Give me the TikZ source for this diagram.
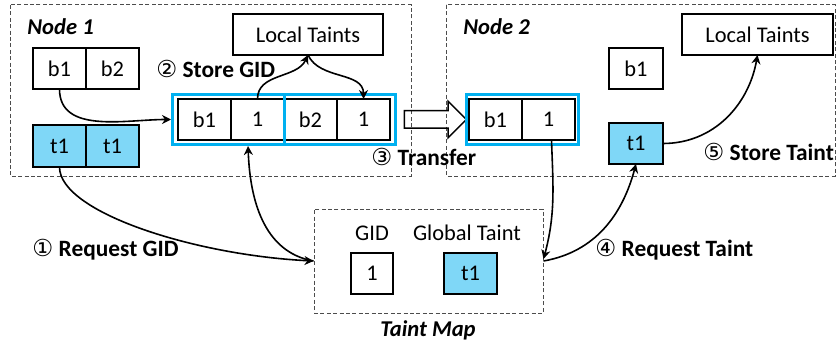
\documentclass[tikz,border=0pt]{standalone}
\usepackage{fontspec}
\setmainfont{Carlito}
\newfontfamily\circled{DejaVu Sans}
\usepackage{tikz}
\usetikzlibrary{arrows.meta,shapes}
\definecolor{taint}{HTML}{7FD7F7}
\definecolor{gidblue}{HTML}{00B0F0}

\begin{document}
\begin{tikzpicture}[x=0.5pt,y=-0.5pt,font=\fontsize{11.2}{13}\selectfont]
\tikzstyle{cell}=[rectangle,draw,line width=0.75pt,minimum width=26.5pt,minimum height=20.5pt,inner sep=0pt,outer sep=0pt]
\tikzstyle{tcell}=[cell,fill=taint]
\tikzstyle{grp}=[rectangle,draw=gidblue,line width=1.5pt,minimum height=25pt,inner sep=0pt]
\tikzstyle{region}=[draw=black!70,dash pattern=on 2pt off 1.2pt,line width=0.5pt]
\tikzstyle{step label}=[anchor=west,inner sep=0pt,font=\fontsize{11.7}{14}\selectfont\bfseries]
\tikzstyle{title}=[anchor=west,inner sep=0pt,font=\fontsize{11.3}{13}\selectfont\bfseries\itshape]
\tikzstyle{flow}=[line width=0.8pt,-{Stealth[length=4.5pt,width=4.5pt]}]
\useasboundingbox (0,0) rectangle (838,347);

% the two nodes and the shared map
\draw[region] (10,5) rectangle (411,176);
\draw[region] (446,5) rectangle (835,176);
\node[region,rectangle,minimum width=114.5pt,minimum height=52pt] (tm) at (428.5,261) {};
\node[title] at (27,27) {Node 1};
\node[title] at (463,27) {Node 2};
\node[title,anchor=center] at (428,330) {Taint Map};

% node 1
\node[cell,minimum width=75pt] (lt1) at (308,34.5) {Local Taints};
\node[cell] (b1) at (59.5,68.5) {b1};
\node[cell,anchor=west] (b2) at (b1.east) {b2};
\node[tcell,minimum height=21pt] (t1) at (59.5,146) {t1};
\node[tcell,minimum height=21pt,anchor=west] (t2) at (t1.east) {t1};
\node[cell] (c1) at (204.5,119.5) {b1};
\node[cell,anchor=west] (c2) at (c1.east) {1};
\node[cell,anchor=west] (c3) at (c2.east) {b2};
\node[cell,anchor=west] (c4) at (c3.east) {1};
\node[grp,minimum width=55.75pt] (g1) at (228.25,119.5) {};
\node[grp,minimum width=55.75pt] (g2) at (339.75,119.5) {};

% transfer
\node[draw,single arrow,line width=0.75pt,inner xsep=0pt,inner ysep=4pt,minimum height=31pt,single arrow head extend=4.75pt] (tr) at (431,119.5) {};

% node 2
\node[cell,minimum width=75.5pt] (lt2) at (757.5,34.5) {Local Taints};
\node[cell] (d1) at (495.5,119.5) {b1};
\node[cell,anchor=west] (d2) at (d1.east) {1};
\node[grp,minimum width=56pt] (g3) at (522.5,119.5) {};
\node[cell,minimum width=27pt] (e1) at (636,68.5) {b1};
\node[tcell,minimum width=27pt] (e2) at (636,143.5) {t1};

% taint map entries
\node at (372,233) {GID};
\node at (467,233) {Global Taint};
\node[cell,minimum width=21pt] (m1) at (372,273.5) {1};
\node[tcell] (m2) at (470.5,273.5) {t1};

% steps
\node[step label] at (156,69) {{\circled\mdseries ②} Store GID};
\node[step label] at (371,157) {{\circled\mdseries ③} Transfer};
\node[step label] at (703,152) {{\circled\mdseries ⑤} Store Taint};
\node[step label] at (32,250) {{\circled\mdseries ①} Request GID};
\node[step label] at (595,250) {{\circled\mdseries ④} Request Taint};

\foreach \from/\to/\o/\i in {b1.south/g1.west/-90/180,c2.north/lt1.south/90/-115,lt1.south/c4.north/-65/90,tm.east/e2.south/10/-105,e2.east/lt2.south/0/-100}
\draw[flow] (\from) to[out=\o,in=\i] (\to);
\draw[flow] (t1.south) .. controls +(0,45) and +(-120,-6) .. (tm.west);
\draw[flow] ([xshift=1.5pt]d2.south) to[out=-88,in=75] ([yshift=1pt]tm.east);
\draw[flow,{Stealth[length=4.5pt,width=4.5pt]}-] ([xshift=9.9pt]g1.south) to[out=-88,in=170] (tm.west);
\end{tikzpicture}
\end{document}
